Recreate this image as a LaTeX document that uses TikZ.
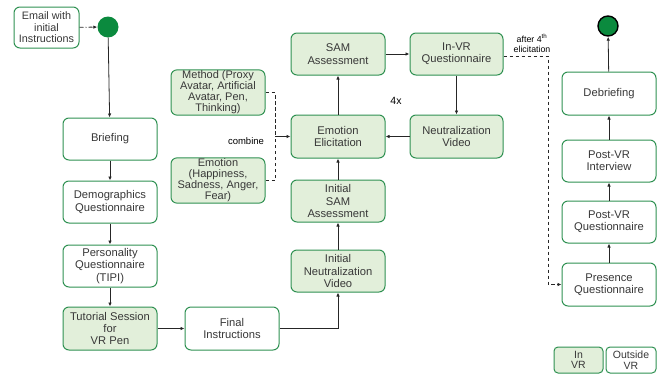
\documentclass[tikz,border=0pt]{standalone}
\usepackage{fontspec}
\setmainfont{Liberation Sans}
\usetikzlibrary{arrows.meta,positioning}
\definecolor{bord}{HTML}{2F9152}
\definecolor{infill}{HTML}{E2EFDA}
\definecolor{txt}{HTML}{383838}
\definecolor{dot}{HTML}{0B8A3E}
\tikzset{
  box/.style={draw=bord, line width=1pt, rounded corners=6pt, minimum width=94pt, minimum height=42pt, align=center, text=txt, font=\fontsize{11.2}{12.3}\selectfont, inner sep=1pt},
  vrbox/.style={box, fill=infill},
  outbox/.style={box, fill=white},
  arr/.style={-{Latex[length=4pt,width=3.5pt]}, line width=0.8pt, draw=black!85},
  dsh/.style={line width=0.8pt, dashed, dash pattern=on 3.5pt off 2.5pt, draw=black!85},
  lbl/.style={text=black, font=\fontsize{9.5}{10}\selectfont, align=center}
}
\begin{document}
\begin{tikzpicture}[x=1pt,y=-1pt]
\useasboundingbox (0,0) rectangle (658,375);
% left column
\node[outbox, minimum width=65pt, minimum height=41pt, font=\fontsize{10.8}{11.5}\selectfont] (email) at (46.5,27.5) {Email with\\initial\\Instructions};
\node[circle, fill=dot, minimum size=21pt, inner sep=0pt] (start) at (108,27) {};
\node[outbox] (brief) at (110,139) {Briefing};
\node[outbox] (demo) at (110,202) {Demographics\\Questionnaire};
\node[outbox] (pers) at (110,266) {Personality\\Questionnaire\\(TIPI)};
\node[vrbox, minimum height=43pt] (tut) at (110,328.5) {Tutorial Session\\for\\VR Pen};
\node[outbox, minimum height=43pt] (final) at (232,328.5) {Final\\Instructions};
% middle
\node[vrbox] (ineu) at (338,271) {Initial\\Neutralization\\Video};
\node[vrbox] (isam) at (338,201) {Initial\\SAM\\Assessment};
\node[vrbox, minimum height=43pt] (elic) at (338,136.5) {Emotion\\Elicitation};
\node[vrbox] (sam) at (338,54) {SAM\\Assessment};
\node[vrbox, minimum width=93pt] (invr) at (456.5,54) {In-VR\\Questionnaire};
\node[vrbox, minimum width=93pt, minimum height=43pt] (neu) at (456.5,136.5) {Neutralization\\Video};
\node[vrbox, minimum height=43pt, font=\fontsize{11}{11}\selectfont] (meth) at (218,92.5) {Method (Proxy\\Avatar, Artificial\\Avatar, Pen,\\Thinking)};
\node[vrbox, minimum height=45pt, font=\fontsize{11}{11}\selectfont] (emo) at (218,180.5) {Emotion\\(Happiness,\\Sadness, Anger,\\Fear)};
\node[lbl] (comb) at (246,141) {combine};
\node[lbl, font=\fontsize{10.5}{11}\selectfont] (four) at (396,101) {4x};
\node[lbl, font=\fontsize{8.8}{10}\selectfont] (after) at (532,43) {after 4\textsuperscript{th}\\elicitation};
% right column
\node[circle, fill=dot, draw=black, line width=1.4pt, minimum size=20pt, inner sep=0pt] (end) at (608,26) {};
\node[outbox, minimum height=43pt] (debr) at (609,93.5) {Debriefing};
\node[outbox] (intv) at (609,161) {Post-VR\\Interview};
\node[outbox] (pq) at (609,222) {Post-VR\\Questionnaire};
\node[outbox, minimum height=43pt] (pres) at (609,284.5) {Presence\\Questionnaire};
% legend
\node[vrbox, minimum width=49pt, minimum height=26pt, rounded corners=4pt, font=\fontsize{10.5}{10.5}\selectfont] (lin) at (578.5,360) {In\\VR};
\node[outbox, minimum width=50pt, minimum height=26pt, rounded corners=4pt, font=\fontsize{10.5}{10.5}\selectfont] (lout) at (631,360) {Outside\\VR};
% arrows
\draw[arr, dash pattern=on 4pt off 2pt on 1pt off 2pt] (email) -- (start);
\draw[arr] (start) -- (brief);
\draw[arr] (brief) -- (demo);
\draw[arr] (demo) -- (pers);
\draw[arr] (pers) -- (tut);
\draw[arr] (tut) -- (final);
\draw[arr] (final.east) -| (ineu.south);
\draw[arr] (ineu) -- (isam);
\draw[arr] (isam) -- (elic);
\draw[arr] (elic) -- (sam);
\draw[arr] (sam) -- (invr);
\draw[arr] (invr) -- (neu);
\draw[arr] (neu) -- (elic);
\coordinate (mj) at (275,136.5);
\draw[dsh] (meth.east) -| (mj);
\draw[dsh] (emo.east) -| (mj);
\draw[arr] (mj) -- (elic.west);
\coordinate (dc) at (548,56);
\draw[dsh, -{Latex[length=4pt,width=3.5pt]}] (invr.east |- dc) -- (dc) |- (pres.west);
\draw[arr] (pres) -- (pq);
\draw[arr] (pq) -- (intv);
\draw[arr] (intv) -- (debr);
\draw[arr] (debr) -- (end);
\end{tikzpicture}
\end{document}
